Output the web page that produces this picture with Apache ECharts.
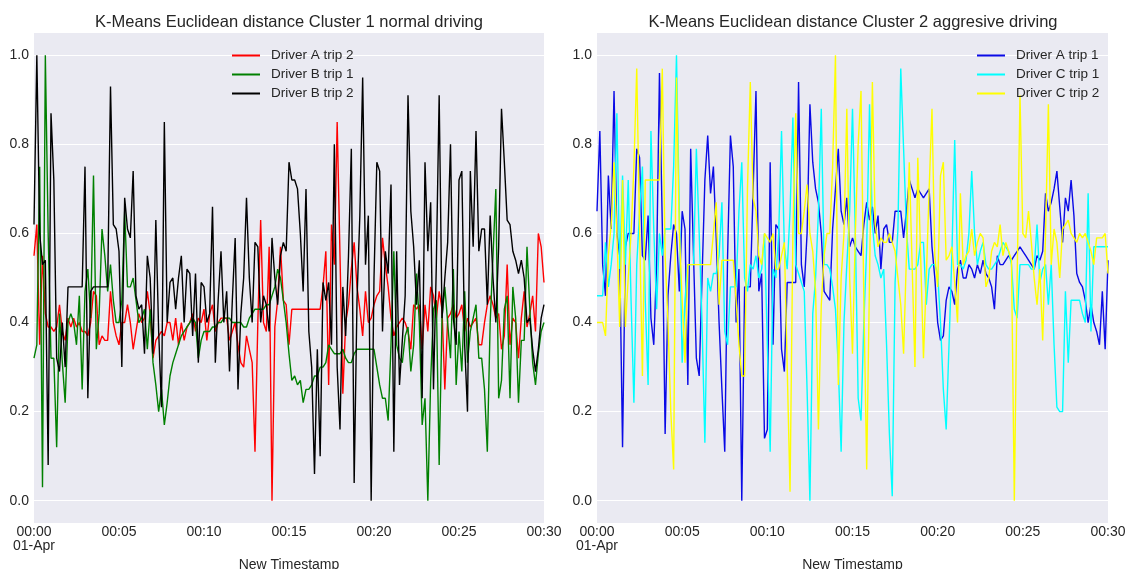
<!DOCTYPE html>
<html>
<head>
<meta charset="utf-8">
<title>K-Means Euclidean distance</title>
<script src="https://cdn.jsdelivr.net/npm/echarts@6/dist/echarts.min.js"></script>
<style>
    html, body {margin: 0; padding: 0; background: #fff;}
    #chart {width: 1126px; height: 569px;}
</style>
</head>
<body>
<div id="chart"></div>
<script>
"use strict";
// one sample every 10 s, 00:00 -> 00:30 (181 samples)
var stepSec = 10;
var xTickLabels = ['00:00\n01-Apr', '00:05', '00:10', '00:15', '00:20', '00:25', '00:30'];
var yTickValues = [0, 0.2, 0.4, 0.6, 0.8, 1.0];

// Cluster 1 - normal driving
var driverA2 = [
    0.55, 0.62, 0.35, 0.55, 0.42, 0.39, 0.39, 0.38, 0.39, 0.44, 0.38, 0.36,
    0.41, 0.39, 0.41, 0.39, 0.40, 0.38, 0.38, 0.37, 0.40, 0.47, 0.46, 0.35,
    0.37, 0.36, 0.36, 0.47, 0.40, 0.37, 0.35, 0.40, 0.40, 0.44, 0.40, 0.34,
    0.38, 0.42, 0.40, 0.41, 0.47, 0.42, 0.32, 0.36, 0.37, 0.38, 0.37, 0.40,
    0.40, 0.36, 0.41, 0.35, 0.40, 0.36, 0.39, 0.40, 0.42, 0.38, 0.41, 0.40,
    0.43, 0.36, 0.42, 0.44, 0.38, 0.40, 0.41, 0.41, 0.41, 0.36, 0.38, 0.40,
    0.35, 0.31, 0.30, 0.37, 0.34, 0.31, 0.11, 0.40, 0.63, 0.40, 0.38, 0.57,
    0.00, 0.39, 0.45, 0.57, 0.45, 0.44, 0.35, 0.43, 0.43, 0.43, 0.43, 0.43,
    0.43, 0.43, 0.43, 0.43, 0.43, 0.43, 0.48, 0.56, 0.26, 0.62, 0.53, 0.85,
    0.55, 0.24, 0.40, 0.44, 0.52, 0.58, 0.48, 0.43, 0.37, 0.47, 0.40, 0.41,
    0.44, 0.46, 0.47, 0.59, 0.53, 0.48, 0.41, 0.37, 0.39, 0.40, 0.41, 0.40,
    0.38, 0.34, 0.44, 0.43, 0.44, 0.34, 0.44, 0.38, 0.48, 0.46, 0.41, 0.47,
    0.43, 0.25, 0.41, 0.42, 0.44, 0.41, 0.42, 0.44, 0.38, 0.41, 0.39, 0.40,
    0.41, 0.35, 0.35, 0.40, 0.44, 0.46, 0.44, 0.41, 0.42, 0.34, 0.37, 0.53,
    0.35, 0.41, 0.40, 0.32, 0.41, 0.47, 0.39, 0.42, 0.46, 0.38, 0.60, 0.57,
    0.49
];
var driverB1 = [
    0.32, 0.35, 0.75, 0.03, 1.00, 0.60, 0.32, 0.32, 0.12, 0.42, 0.31, 0.22,
    0.40, 0.42, 0.40, 0.35, 0.46, 0.25, 0.47, 0.52, 0.41, 0.73, 0.34, 0.42,
    0.61, 0.55, 0.47, 0.53, 0.45, 0.40, 0.40, 0.45, 0.65, 0.48, 0.48, 0.50,
    0.45, 0.40, 0.41, 0.43, 0.34, 0.43, 0.31, 0.26, 0.20, 0.25, 0.17, 0.22,
    0.28, 0.31, 0.33, 0.35, 0.37, 0.38, 0.39, 0.40, 0.41, 0.40, 0.32, 0.36,
    0.38, 0.38, 0.38, 0.39, 0.39, 0.40, 0.40, 0.41, 0.41, 0.41, 0.40, 0.40,
    0.40, 0.40, 0.39, 0.39, 0.41, 0.42, 0.43, 0.43, 0.43, 0.43, 0.44, 0.44,
    0.46, 0.48, 0.52, 0.50, 0.45, 0.40, 0.33, 0.27, 0.28, 0.26, 0.27, 0.22,
    0.25, 0.25, 0.26, 0.28, 0.28, 0.30, 0.30, 0.31, 0.35, 0.34, 0.33, 0.33,
    0.33, 0.34, 0.32, 0.31, 0.31, 0.33, 0.34, 0.34, 0.34, 0.34, 0.34, 0.34,
    0.34, 0.30, 0.26, 0.23, 0.23, 0.18, 0.35, 0.56, 0.35, 0.32, 0.31, 0.37,
    0.39, 0.29, 0.35, 0.51, 0.40, 0.17, 0.23, 0.00, 0.27, 0.43, 0.45, 0.08,
    0.41, 0.48, 0.40, 0.32, 0.52, 0.26, 0.38, 0.29, 0.47, 0.31, 0.38, 0.41,
    0.44, 0.32, 0.32, 0.25, 0.11, 0.40, 0.55, 0.70, 0.23, 0.27, 0.43, 0.46,
    0.23, 0.48, 0.41, 0.22, 0.36, 0.36, 0.57, 0.43, 0.31, 0.26, 0.33, 0.38,
    0.40
];
var driverB2 = [
    0.62, 1.00, 0.60, 0.53, 0.54, 0.08, 0.87, 0.72, 0.32, 0.29, 0.40, 0.30,
    0.48, 0.48, 0.48, 0.48, 0.48, 0.48, 0.75, 0.23, 0.47, 0.48, 0.48, 0.48,
    0.48, 0.48, 0.48, 0.93, 0.62, 0.61, 0.56, 0.30, 0.68, 0.61, 0.59, 0.74,
    0.46, 0.43, 0.44, 0.33, 0.55, 0.50, 0.33, 0.63, 0.38, 0.21, 0.85, 0.40,
    0.49, 0.50, 0.43, 0.50, 0.55, 0.40, 0.52, 0.51, 0.37, 0.51, 0.31, 0.49,
    0.48, 0.40, 0.42, 0.66, 0.31, 0.45, 0.56, 0.40, 0.47, 0.29, 0.45, 0.59,
    0.25, 0.42, 0.50, 0.68, 0.50, 0.40, 0.58, 0.57, 0.40, 0.46, 0.44, 0.38,
    0.59, 0.50, 0.44, 0.55, 0.58, 0.56, 0.76, 0.72, 0.72, 0.70, 0.60, 0.47,
    0.70, 0.38, 0.30, 0.06, 0.34, 0.10, 0.49, 0.45, 0.49, 0.35, 0.80, 0.30,
    0.16, 0.48, 0.37, 0.55, 0.79, 0.04, 0.45, 0.64, 0.95, 0.53, 0.64, 0.00,
    0.50, 0.76, 0.74, 0.38, 0.56, 0.51, 0.71, 0.11, 0.56, 0.26, 0.36, 0.46,
    0.91, 0.65, 0.57, 0.44, 0.54, 0.23, 0.76, 0.56, 0.67, 0.25, 0.53, 0.91,
    0.41, 0.50, 0.58, 0.80, 0.41, 0.35, 0.72, 0.74, 0.35, 0.20, 0.74, 0.57,
    0.83, 0.56, 0.61, 0.61, 0.44, 0.64, 0.50, 0.40, 0.57, 0.88, 0.76, 0.63,
    0.62, 0.56, 0.54, 0.51, 0.54, 0.50, 0.40, 0.41, 0.34, 0.29, 0.34, 0.41,
    0.44
];

// Cluster 2 - aggresive driving
var driverA1 = [
    0.65, 0.83, 0.53, 0.46, 0.73, 0.61, 0.92, 0.60, 0.55, 0.12, 0.57, 0.60,
    0.60, 0.60, 0.79, 0.77, 0.55, 0.54, 0.64, 0.41, 0.35, 0.53, 0.96, 0.62,
    0.15, 0.46, 0.55, 0.62, 0.60, 0.47, 0.65, 0.61, 0.26, 0.79, 0.55, 0.32,
    0.28, 0.50, 0.72, 0.82, 0.69, 0.75, 0.59, 0.40, 0.25, 0.11, 0.55, 0.82,
    0.75, 0.40, 0.52, 0.00, 0.48, 0.48, 0.48, 0.70, 0.92, 0.47, 0.51, 0.14,
    0.16, 0.76, 0.35, 0.62, 0.61, 0.34, 0.29, 0.49, 0.49, 0.49, 0.49, 0.94,
    0.53, 0.48, 0.60, 0.89, 0.76, 0.70, 0.67, 0.60, 0.47, 0.46, 0.45, 0.61,
    0.70, 0.79, 0.65, 0.62, 0.68, 0.57, 0.59, 0.57, 0.56, 0.55, 0.62, 0.67,
    0.63, 0.66, 0.60, 0.64, 0.52, 0.61, 0.62, 0.58, 0.58, 0.65, 0.65, 0.65,
    0.59, 0.65, 0.72, 0.70, 0.68, 0.70, 0.69, 0.68, 0.69, 0.70, 0.57, 0.50,
    0.40, 0.36, 0.37, 0.45, 0.48, 0.47, 0.44, 0.52, 0.54, 0.50, 0.50, 0.53,
    0.52, 0.50, 0.53, 0.51, 0.54, 0.51, 0.50, 0.48, 0.43, 0.55, 0.53, 0.53,
    0.54, 0.55, 0.54, 0.55, 0.56, 0.57, 0.56, 0.55, 0.54, 0.53, 0.52, 0.55,
    0.54, 0.56, 0.69, 0.65, 0.67, 0.70, 0.74, 0.66, 0.58, 0.68, 0.65, 0.72,
    0.64, 0.51, 0.49, 0.48, 0.45, 0.40, 0.44, 0.40, 0.38, 0.35, 0.47, 0.34,
    0.54
];
var driverC1 = [
    0.46, 0.46, 0.46, 0.58, 0.48, 0.53, 0.60, 0.87, 0.52, 0.73, 0.53, 0.72,
    0.45, 0.22, 0.53, 0.65, 0.75, 0.45, 0.26, 0.83, 0.61, 0.43, 0.60, 0.55,
    0.61, 0.61, 0.61, 0.75, 1.00, 0.65, 0.31, 0.45, 0.53, 0.53, 0.53, 0.79,
    0.60, 0.40, 0.13, 0.50, 0.47, 0.51, 0.51, 0.55, 0.67, 0.38, 0.35, 0.48,
    0.48, 0.48, 0.65, 0.76, 0.50, 0.47, 0.53, 0.52, 0.55, 0.50, 0.52, 0.60,
    0.35, 0.11, 0.52, 0.50, 0.60, 0.83, 0.57, 0.52, 0.65, 0.86, 0.53, 0.51,
    0.49, 0.47, 0.25, 0.00, 0.42, 0.50, 0.65, 0.88, 0.53, 0.53, 0.52, 0.48,
    0.43, 0.30, 0.11, 0.40, 0.53, 0.65, 0.88, 0.60, 0.23, 0.18, 0.40, 0.57,
    0.89, 0.62, 0.55, 0.53, 0.50, 0.52, 0.35, 0.15, 0.01, 0.49, 0.61, 0.97,
    0.79, 0.61, 0.52, 0.52, 0.52, 0.53, 0.58, 0.58, 0.44, 0.52, 0.53, 0.53,
    0.51, 0.40, 0.25, 0.16, 0.35, 0.55, 0.81, 0.53, 0.53, 0.52, 0.54, 0.60,
    0.74, 0.60, 0.53, 0.56, 0.58, 0.53, 0.52, 0.52, 0.53, 0.54, 0.56, 0.58,
    0.57, 0.56, 0.53, 0.43, 0.41, 0.53, 0.53, 0.53, 0.53, 0.52, 0.52, 0.62,
    0.49, 0.52, 0.53, 0.44, 0.53, 0.35, 0.21, 0.20, 0.20, 0.47, 0.31, 0.45,
    0.45, 0.45, 0.45, 0.42, 0.40, 0.69, 0.38, 0.57, 0.57, 0.57, 0.57, 0.57,
    0.57
];
var driverC2 = [
    0.40, 0.40, 0.40, 0.37, 0.55, 0.62, 0.76, 0.60, 0.39, 0.72, 0.39, 0.50,
    0.60, 0.75, 0.97, 0.61, 0.28, 0.72, 0.72, 0.72, 0.72, 0.72, 0.72, 0.97,
    0.55, 0.40, 0.20, 0.07, 0.95, 0.60, 0.45, 0.31, 0.53, 0.53, 0.53, 0.53,
    0.53, 0.53, 0.53, 0.53, 0.53, 0.60, 0.67, 0.44, 0.54, 0.54, 0.54, 0.54,
    0.54, 0.45, 0.35, 0.28, 0.28, 0.70, 0.94, 0.68, 0.65, 0.55, 0.53, 0.60,
    0.59, 0.58, 0.60, 0.52, 0.52, 0.55, 0.58, 0.30, 0.02, 0.60, 0.87, 0.60,
    0.60, 0.65, 0.71, 0.60, 0.56, 0.47, 0.16, 0.44, 0.55, 0.60, 0.60, 0.75,
    1.00, 0.26, 0.50, 0.60, 0.88, 0.50, 0.33, 0.60, 0.80, 0.92, 0.45, 0.07,
    0.50, 0.94, 0.62, 0.57, 0.59, 0.58, 0.58, 0.60, 0.58, 0.56, 0.50, 0.44,
    0.33, 0.55, 0.76, 0.53, 0.30, 0.77, 0.55, 0.32, 0.50, 0.70, 0.88, 0.55,
    0.48, 0.73, 0.76, 0.54, 0.55, 0.57, 0.49, 0.40, 0.69, 0.53, 0.55, 0.56,
    0.61, 0.55, 0.58, 0.60, 0.59, 0.48, 0.50, 0.56, 0.58, 0.57, 0.62, 0.55,
    0.58, 0.56, 0.54, 0.00, 0.50, 0.91, 0.60, 0.59, 0.65, 0.58, 0.50, 0.44,
    0.52, 0.36, 0.60, 0.89, 0.53, 0.61, 0.58, 0.50, 0.61, 0.62, 0.63, 0.60,
    0.59, 0.58, 0.60, 0.59, 0.60, 0.58, 0.56, 0.53, 0.59, 0.59, 0.59, 0.60,
    0.51
];

var fontFamily = '"Liberation Sans", Arial, sans-serif';
var textColor = '#262626';

function toPairs(values) {
    var out = [];
    for (var i = 0; i < values.length; i++) {
        out.push([i * stepSec, values[i]]);
    }
    return out;
}

function timeAxis(gridIndex) {
    return {
        type: 'value', gridIndex: gridIndex,
        min: 0, max: 1800, interval: 300,
        name: 'New Timestamp', nameLocation: 'middle', nameGap: 32,
        nameTextStyle: {color: textColor, fontSize: 14, fontFamily: fontFamily},
        axisLine: {show: false}, axisTick: {show: false},
        splitLine: {show: false},
        axisLabel: {
            color: textColor, fontSize: 14, fontFamily: fontFamily, margin: 2, lineHeight: 14,
            formatter: function (v) { return xTickLabels[Math.round(v / 300)]; }
        }
    };
}

function valueAxis(gridIndex) {
    return {
        type: 'value', gridIndex: gridIndex,
        min: -0.05, max: 1.05,
        axisLine: {show: false},
        axisTick: {show: false, customValues: yTickValues},
        splitLine: {show: true, lineStyle: {color: '#ffffff', width: 1}},
        axisLabel: {
            customValues: yTickValues,
            color: textColor, fontSize: 14, fontFamily: fontFamily, margin: 5,
            formatter: function (v) { return v.toFixed(1); }
        }
    };
}

function lineSeries(name, values, color, axisIndex) {
    return {
        name: name, type: 'line',
        xAxisIndex: axisIndex, yAxisIndex: axisIndex,
        data: toPairs(values),
        symbol: 'none', smooth: false,
        lineStyle: {color: color, width: 1.4},
        itemStyle: {color: color},
        animation: false
    };
}

function legendAt(left, names) {
    return {
        orient: 'vertical', left: left, top: 43,
        icon: 'rect', itemWidth: 28, itemHeight: 2, itemGap: 4,
        data: names,
        textStyle: {color: textColor, fontSize: 13.5, lineHeight: 15, fontFamily: fontFamily, padding: [0, 0, 0, 6]}
    };
}

var option = {
    backgroundColor: '#ffffff',
    animation: false,
    title: [
        {text: 'K-Means Euclidean distance Cluster 1 normal driving', left: 284, top: 9, textAlign: 'center',
            textStyle: {color: textColor, fontSize: 16.5, fontWeight: 'normal', fontFamily: fontFamily}},
        {text: 'K-Means Euclidean distance Cluster 2 aggresive driving', left: 848, top: 9, textAlign: 'center',
            textStyle: {color: textColor, fontSize: 16.5, fontWeight: 'normal', fontFamily: fontFamily}}
    ],
    legend: [
        legendAt(227, ['Driver A trip 2', 'Driver B trip 1', 'Driver B trip 2']),
        legendAt(972, ['Driver A trip 1', 'Driver C trip 1', 'Driver C trip 2'])
    ],
    grid: [
        {left: 34, top: 33, width: 510, height: 490, show: true, backgroundColor: '#EAEAF2', borderWidth: 0,
            containLabel: false, outerBoundsMode: 'none'},
        {left: 597, top: 33, width: 511, height: 490, show: true, backgroundColor: '#EAEAF2', borderWidth: 0,
            containLabel: false, outerBoundsMode: 'none'}
    ],
    xAxis: [timeAxis(0), timeAxis(1)],
    yAxis: [valueAxis(0), valueAxis(1)],
    series: [
        lineSeries('Driver A trip 2', driverA2, '#ff0000', 0),
        lineSeries('Driver B trip 1', driverB1, '#008000', 0),
        lineSeries('Driver B trip 2', driverB2, '#000000', 0),
        lineSeries('Driver A trip 1', driverA1, '#0a0ae6', 1),
        lineSeries('Driver C trip 1', driverC1, '#00ffff', 1),
        lineSeries('Driver C trip 2', driverC2, '#ffff00', 1)
    ]
};

var chart = echarts.init(document.getElementById('chart'));
chart.setOption(option);
</script>
</body>
</html>
